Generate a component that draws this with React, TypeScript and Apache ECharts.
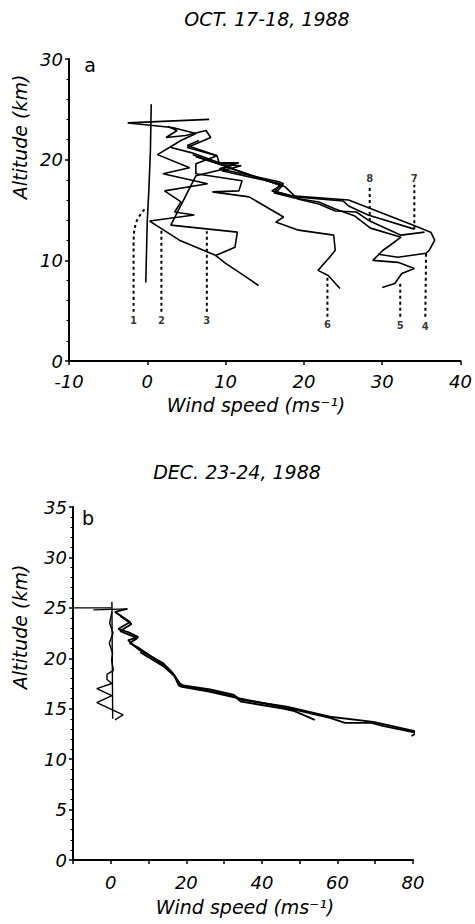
import React, { useEffect, useRef } from "react";
import * as echarts from "echarts";

type Pt = [number, number];

// ---- Panel a: October 17-18, 1988 (wind speed m/s, altitude km) ----
const octProfile1: Pt[] = [[0.5, 25.5], [0.4, 21], [0.2, 17], [0, 14], [-0.2, 7.8]];
const octProfile2: Pt[] = [
  [7.9, 24.0], [-2.5, 23.65], [3.2, 23.2], [6.2, 22.6], [4.3, 21.9], [1.3, 20.5], [5.4, 19.2],
  [2.0, 18.6], [7.7, 17.6], [2.2, 16.9], [4.3, 15.8], [3.5, 14.8], [6.0, 14.5], [0.3, 13.9],
  [4.1, 12.0], [8.7, 10.5], [10.0, 9.7], [12.5, 8.4], [14.2, 7.5],
];
const octProfile3: Pt[] = [
  [2.6, 23.3], [3.8, 22.9], [2.4, 22.2], [4.9, 22.4], [7.5, 22.9], [8.1, 22.2], [5.1, 21.2],
  [8.9, 20.4], [9.2, 19.6], [11.3, 19.6], [9.4, 19.0], [6.2, 18.4], [3.0, 13.5], [11.5, 12.8],
  [11.2, 11.3], [8.8, 10.5],
];
const octProfile4: Pt[] = [
  [3.0, 21.2], [5.6, 20.7], [9.2, 19.7], [11.7, 19.7], [9.2, 19.1], [16.8, 17.8], [17.4, 17.6],
  [15.9, 16.9], [18.5, 16.4], [25.7, 16.0], [33.9, 13.5], [36.2, 12.8], [36.7, 12.0], [36.0, 11.0],
  [35.6, 10.7], [32.0, 10.3], [29.5, 10.6],
];
const octProfile5: Pt[] = [
  [5.8, 20.5], [9.5, 19.5], [12.0, 19.4], [9.5, 18.9], [17.0, 17.6], [16.2, 16.7], [18.8, 16.2],
  [21.9, 15.8], [24.0, 15.1], [26.5, 14.4], [28.5, 13.2], [32.4, 12.3], [31.0, 11.5], [30.1, 11.0],
  [28.8, 10.0], [32.0, 9.8], [34.1, 9.2], [32.5, 8.7], [31.6, 7.7], [30.0, 7.3],
];
const octProfile6: Pt[] = [
  [6.6, 21.9], [5.1, 21.4], [8.9, 20.4], [6.2, 19.6], [6.2, 18.6], [12.1, 17.9], [11.7, 16.9],
  [8.3, 16.8], [13.0, 16.3], [17.4, 14.3], [16.4, 13.8], [19.3, 13.0], [23.8, 12.5], [24.0, 11.0],
  [23.5, 10.5], [21.8, 9.0], [23.1, 8.5], [24.6, 7.2],
];
const octProfile7: Pt[] = [
  [6.2, 20.3], [9.8, 19.4], [17.2, 17.4], [16.5, 16.8], [19.0, 16.3], [25.0, 15.9], [25.7, 15.4],
  [28.2, 14.5], [34.1, 13.1],
];
const octProfile8: Pt[] = [
  [10.0, 19.3], [17.6, 17.3], [19.2, 16.1], [21.9, 15.6], [24.0, 14.9], [26.7, 14.8],
  [28.4, 13.9], [32.4, 12.5], [35.4, 12.8],
];
const octProfiles: Pt[][] = [
  octProfile1, octProfile2, octProfile3, octProfile4,
  octProfile5, octProfile6, octProfile7, octProfile8,
];

// leader lines from the profile numbers to their soundings
const octLeader1: Pt[] = [[-1.75, 4.9], [-1.75, 11.5], [-1.4, 13.8], [-0.2, 15.2]];
const octLeader2: Pt[] = [[1.8, 4.9], [1.8, 13.0]];
const octLeader3: Pt[] = [[7.6, 4.9], [7.6, 12.9]];
const octLeader4: Pt[] = [[35.5, 4.4], [35.6, 10.7]];
const octLeader5: Pt[] = [[32.3, 4.4], [32.3, 7.7]];
const octLeader6: Pt[] = [[23.0, 4.4], [23.0, 8.3]];
const octLeader7: Pt[] = [[34.1, 13.1], [34.1, 17.5]];
const octLeader8: Pt[] = [[28.4, 13.9], [28.4, 17.5]];
const octLeaders: Pt[][] = [
  octLeader1, octLeader2, octLeader3, octLeader4,
  octLeader5, octLeader6, octLeader7, octLeader8,
];
const octLabelNames = ["1", "2", "3", "4", "5", "6", "7", "8"];
const octLabelPos: Pt[] = [
  [-1.75, 4.0], [1.8, 4.0], [7.6, 4.0], [35.5, 3.4],
  [32.3, 3.5], [23.0, 3.6], [34.1, 18.1], [28.4, 18.1],
];

// ---- Panel b: December 23-24, 1988 ----
const decVertical: Pt[] = [[0.3, 25.6], [0.4, 20], [0.5, 14.0]];
const decTopLine: Pt[] = [[-10, 25.0], [0.3, 25.0]];
const decTopCross: Pt[] = [[-4.6, 24.8], [4.4, 24.9]];
const decLowWiggle: Pt[] = [
  [0.3, 24.6], [-0.3, 23.5], [0.6, 22.5], [-0.4, 21.5], [0.5, 20.5], [0.2, 19.8], [0.7, 18.8],
  [-1.0, 18.4], [-1.0, 17.9], [0.3, 17.5], [-3.7, 17.0], [0.3, 16.3], [-3.7, 15.6], [3.3, 14.4],
  [1.1, 13.9],
];
const decMainA: Pt[] = [
  [4.4, 24.9], [1.1, 24.6], [5.1, 23.6], [2.0, 22.9], [4.6, 22.6], [7.3, 22.1], [4.6, 21.8],
  [6.0, 21.3], [7.7, 20.8], [13.9, 19.5], [16.5, 18.5], [18.3, 17.5], [19.2, 17.3], [26.3, 16.9],
  [32.4, 16.4], [34.2, 15.9], [46.6, 15.2], [58.0, 14.2], [69.5, 13.7], [81.4, 12.7], [79.6, 12.3],
];
const decMainB: Pt[] = [
  [2.5, 24.2], [5.5, 23.4], [2.5, 22.7], [7.0, 22.0], [5.0, 21.5], [7.5, 21.0], [14.2, 19.3],
  [16.8, 18.3], [18.0, 17.3], [26.0, 16.8], [32.8, 16.2], [34.5, 15.7], [46.0, 15.0],
  [48.3, 14.8], [54.0, 13.9],
];
const decMainC: Pt[] = [
  [7.8, 20.6], [14.0, 19.2], [17.0, 18.2], [18.5, 17.2], [26.0, 16.7], [33.0, 16.1], [46.6, 15.1],
  [58.0, 14.1], [62.0, 13.6], [69.0, 13.6], [72.0, 13.3], [81.0, 12.6],
];
const decProfiles: Pt[][] = [decVertical, decTopLine, decTopCross, decLowWiggle, decMainA, decMainB, decMainC];

const FONT = "DejaVu Sans";

export default function App() {
  const ref = useRef<HTMLDivElement>(null);

  useEffect(() => {
    const chart = echarts.init(ref.current!, null, { renderer: "svg" });

    const tickLabel = {
      fontFamily: FONT,
      fontStyle: "italic",
      fontSize: 18,
      color: "#000",
    };
    const axisLine = { show: true, onZero: false, lineStyle: { color: "#000", width: 2 } };
    const axisTick = { show: true, length: 4, lineStyle: { color: "#000", width: 1.5 } };
    const minorTick = { show: true, splitNumber: 5, length: 2.5, lineStyle: { color: "#000", width: 1 } };

    const profile = (data: Pt[], idx: number, width = 1.6) => ({
      type: "line",
      data,
      xAxisIndex: idx,
      yAxisIndex: idx,
      symbol: "none",
      silent: true,
      lineStyle: { color: "#000", width },
    });
    const leader = (data: Pt[]) => ({
      type: "line",
      data,
      xAxisIndex: 0,
      yAxisIndex: 0,
      symbol: "none",
      silent: true,
      smooth: data.length > 2 ? 0.4 : false,
      lineStyle: { color: "#000", width: 2, type: [3, 3] },
    });

    const text = (str: string, x: number, y: number, size: number, italic = true, rotation = 0) => ({
      type: "text",
      x,
      y,
      rotation,
      style: {
        text: str,
        fontFamily: FONT,
        fontSize: size,
        fontStyle: italic ? "italic" : "normal",
        fill: "#000",
        align: "center",
        verticalAlign: "middle",
      },
    });

    chart.setOption({
      animation: false,
      backgroundColor: "#fff",
      grid: [
        { left: 69, right: 12, top: 59, bottom: 563 },
        { left: 73, right: 62, top: 507, bottom: 64 },
      ],
      xAxis: [
        {
          gridIndex: 0, type: "value", min: -10, max: 40, interval: 10,
          axisLine, axisTick, splitLine: { show: false },
          axisLabel: { ...tickLabel, margin: 11 },
        },
        {
          gridIndex: 1, type: "value", min: -10, max: 80, interval: 10,
          axisLine, axisTick, splitLine: { show: false },
          axisLabel: {
            ...tickLabel, margin: 13,
            formatter: (v: number) => (v % 20 === 0 ? String(v) : ""),
          },
        },
      ],
      yAxis: [
        {
          gridIndex: 0, type: "value", min: 0, max: 30, interval: 10,
          axisLine, axisTick, minorTick, splitLine: { show: false }, minorSplitLine: { show: false },
          axisLabel: { ...tickLabel, margin: 6 },
        },
        {
          gridIndex: 1, type: "value", min: 0, max: 35, interval: 5,
          axisLine, axisTick, minorTick, splitLine: { show: false }, minorSplitLine: { show: false },
          axisLabel: { ...tickLabel, margin: 6 },
        },
      ],
      series: [
        ...octProfiles.map((p) => profile(p, 0)),
        ...octLeaders.map((p) => leader(p)),
        {
          type: "scatter",
          xAxisIndex: 0,
          yAxisIndex: 0,
          symbolSize: 1,
          silent: true,
          itemStyle: { color: "rgba(0,0,0,0)" },
          data: octLabelPos.map((p, i) => ({ value: p, name: octLabelNames[i] })),
          label: {
            show: true,
            position: "inside",
            formatter: "{b}",
            fontFamily: FONT,
            fontWeight: "bold",
            fontSize: 10,
            color: "#000",
          },
        },
        ...decProfiles.map((p, i) => profile(p, 1, i >= 4 ? 1.9 : 1.4)),
      ],
      graphic: [
        text("OCT. 17-18, 1988", 267, 19, 19),
        text("a", 90, 65, 19, false),
        text("Altitude (km)", 20, 137, 19, true, Math.PI / 2),
        text("Wind speed (ms\u207B\u00B9)", 256, 405, 19),
        text("DEC. 23-24, 1988", 237, 472, 19),
        text("b", 88, 518, 19, false),
        text("Altitude (km)", 20, 627, 19, true, Math.PI / 2),
        text("Wind speed (ms\u207B\u00B9)", 245, 907, 19),
      ],
    });

    return () => chart.dispose();
  }, []);

  return (
    <div
      ref={ref}
      style={{ position: "fixed", left: 0, top: 0, width: 475, height: 924, background: "#fff" }}
    />
  );
}
